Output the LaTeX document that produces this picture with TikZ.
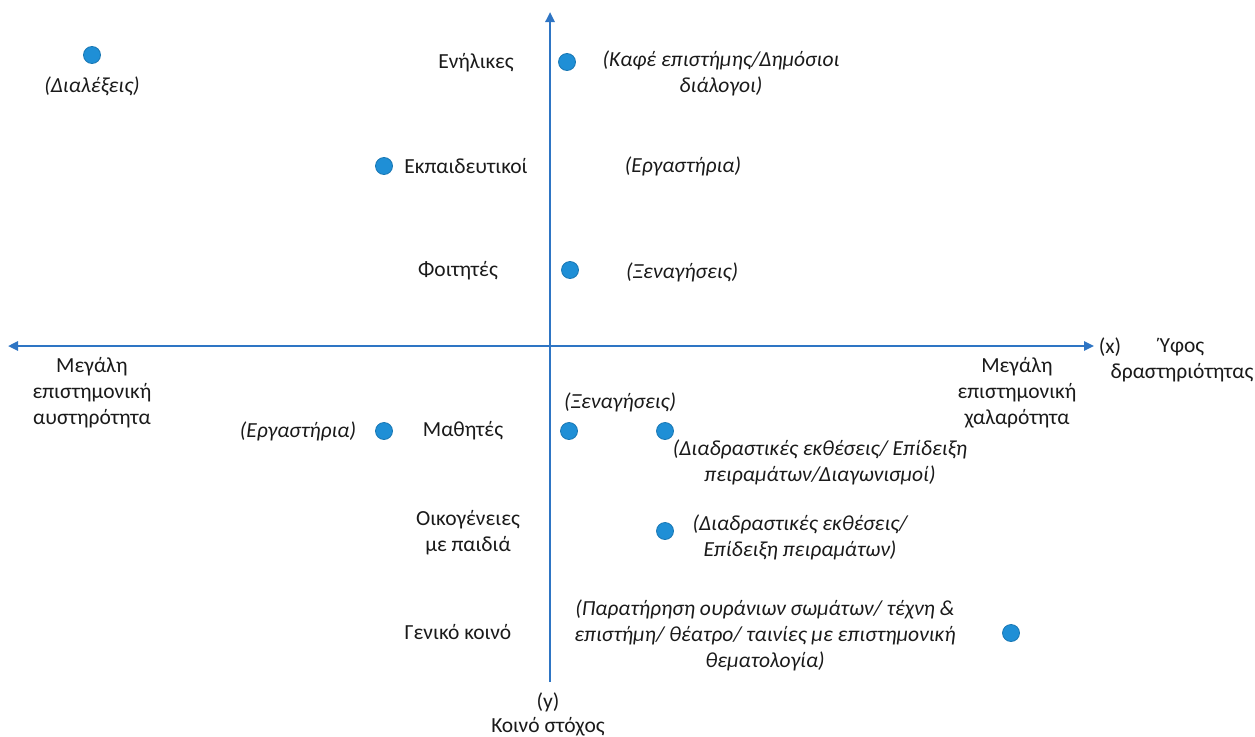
\documentclass[tikz,border=0pt]{standalone}
\usepackage{fontspec}
\setmainfont{Carlito}
\usetikzlibrary{arrows.meta}
\definecolor{axisblue}{HTML}{2E75C4}
\definecolor{dotblue}{HTML}{1F8FD6}
\definecolor{dotedge}{HTML}{1A78B4}
\definecolor{ink}{HTML}{1A1A1A}
\tikzset{
  axis/.style={axisblue, line width=2.4pt, -{Triangle[length=10pt,width=9pt]}},
  dot/.style={circle, fill=dotblue, draw=dotedge, line width=0.8pt, minimum size=17pt, inner sep=0pt},
  lbl/.style={text=ink, font=\fontsize{21.5}{26}\selectfont, align=center, inner sep=0pt},
  act/.style={lbl, font=\fontsize{21.5}{26}\selectfont\itshape},
}
\begin{document}
\begin{tikzpicture}[x=1pt, y=-1pt]
\useasboundingbox (0,0) rectangle (1255,736);

% axes
\coordinate (ytop) at (550,12);
\coordinate (ybot) at (550,682);
\coordinate (xleft) at (8,346);
\coordinate (xright) at (1094,346);
\draw[axis] (ybot) -- (ytop);
\draw[axis] (550,346) -- (xright);
\draw[axis] (550,346) -- (xleft);

% axis captions
\node[lbl] (xname) at (1110,347) {(x)};
\node[lbl] (xtitle) at (1182,360) {Ύφος\\δραστηριότητας};
\node[lbl] (yname) at (548,702) {(y)};
\node[lbl] (ytitle) at (548,727) {Κοινό στόχος};
\node[lbl] (strict) at (92,393) {Μεγάλη\\επιστημονική\\αυστηρότητα};
\node[lbl] (loose) at (1017,393) {Μεγάλη\\επιστημονική\\χαλαρότητα};

% target audiences
\node[lbl] (adults) at (476,63) {Ενήλικες};
\node[lbl] (teachers) at (466,166) {Εκπαιδευτικοί};
\node[lbl] (students) at (458,271) {Φοιτητές};
\node[lbl] (pupils) at (463,431) {Μαθητές};
\node[lbl] (families) at (468,533) {Οικογένειες\\με παιδιά};
\node[lbl] (public) at (458,632) {Γενικό κοινό};

% markers
\node[dot] (d1) at (92,55) {};
\node[dot] (d2) at (567,62) {};
\node[dot] (d3) at (384,166) {};
\node[dot] (d4) at (570,270) {};
\node[dot] (d5) at (384,431) {};
\node[dot] (d6) at (569,431) {};
\node[dot] (d7) at (665,431) {};
\node[dot] (d8) at (665,531) {};
\node[dot] (d9) at (1011,633) {};

% activities
\node[act] (lectures) at (92,86) {(Διαλέξεις)};
\node[act] (cafe) at (721,73) {(Καφέ επιστήμης/Δημόσιοι\\διάλογοι)};
\node[act] (labs1) at (683,166) {(Εργαστήρια)};
\node[act] (tours1) at (682,272) {(Ξεναγήσεις)};
\node[act] (tours2) at (620,402) {(Ξεναγήσεις)};
\node[act] (labs2) at (298,431) {(Εργαστήρια)};
\node[act] (exhib1) at (820,462) {(Διαδραστικές εκθέσεις/ Επίδειξη\\πειραμάτων/Διαγωνισμοί)};
\node[act] (exhib2) at (800,537) {(Διαδραστικές εκθέσεις/\\Επίδειξη πειραμάτων)};
\node[act] (sky) at (765,635) {(Παρατήρηση ουράνιων σωμάτων/ τέχνη \&\\επιστήμη/ θέατρο/ ταινίες με επιστημονική\\θεματολογία)};
\end{tikzpicture}
\end{document}
